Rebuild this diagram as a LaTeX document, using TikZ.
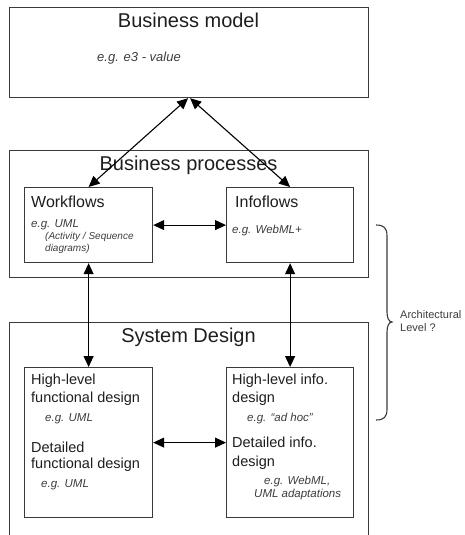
\documentclass[tikz,border=0pt]{standalone}
\usepackage{fontspec}
\setmainfont{Liberation Sans}
\usetikzlibrary{arrows.meta}
\definecolor{boxgray}{HTML}{3A3A3A}
\definecolor{txtgray}{HTML}{1E1E1E}
\definecolor{exgray}{HTML}{3C3C3C}
\begin{document}
\begin{tikzpicture}[x=1pt,y=-1pt,
  box/.style={draw=boxgray, line width=1.2pt, inner sep=0pt, anchor=north west},
  title/.style={font=\fontsize{20}{24}\selectfont, text=txtgray, anchor=base, inner sep=0pt},
  head/.style={font=\fontsize{16}{19}\selectfont, text=txtgray, anchor=base west, inner sep=0pt},
  sub/.style={font=\fontsize{14.5}{17}\selectfont, text=txtgray, anchor=base west, inner sep=0pt},
  ex/.style={font=\fontsize{11.5}{14}\selectfont\itshape, text=exgray, anchor=base west, inner sep=0pt},
  exsmall/.style={font=\fontsize{10}{12}\selectfont\itshape, text=exgray, anchor=base west, inner sep=0pt},
  note/.style={font=\fontsize{11}{13}\selectfont, text=exgray, anchor=base west, inner sep=0pt},
  link/.style={line width=1.1pt, black,
    {Triangle[length=11pt,width=10pt]}-{Triangle[length=11pt,width=10pt]}},
]
\path[use as bounding box, clip] (0,0) rectangle (465,535);

% outer layers
\node[box, minimum width=359pt, minimum height=90pt]  (bm) at (9,7)   {};
\node[box, minimum width=359pt, minimum height=127pt] (bp) at (9,150) {};
\node[box, minimum width=359pt, minimum height=240pt] (sd) at (9,322) {};

\node[title] (bmT) at (188.5,28)  {Business model};
\node[ex, font=\fontsize{13}{15}\selectfont\itshape] (bmE) at (97,62) {e.g. e3 - value};
\node[title] (bpT) at (188.5,170) {Business processes};
\node[title] (sdT) at (188.5,342) {System Design};

% business process boxes
\node[box, minimum width=128pt, minimum height=75pt] (wf)  at (24,187)  {};
\node[box, minimum width=127pt, minimum height=75pt] (inf) at (226,187) {};

\node[head] (wfT) at (31,207) {Workflows};
\node[ex] (wfE) at (31,227) {e.g. UML};
\node[exsmall] (wfE2) at (45,239) {(Activity / Sequence};
\node[exsmall] (wfE3) at (45,251) {diagrams)};

\node[head] (infT) at (235,207) {Infoflows};
\node[ex] (infE) at (232,233) {e.g. WebML+};

% system design boxes
\node[box, minimum width=128pt, minimum height=150pt] (fd) at (24,367)  {};
\node[box, minimum width=127pt, minimum height=150pt] (id) at (226,367) {};

\node[sub] (fd1) at (31,384) {High-level};
\node[sub] (fd2) at (31,402) {functional design};
\node[ex]  (fd3) at (45,421) {e.g. UML};
\node[sub] (fd4) at (31,452) {Detailed};
\node[sub] (fd5) at (31,468) {functional design};
\node[ex]  (fd6) at (41,487) {e.g. UML};

\node[sub] (id1) at (232,384) {High-level info.};
\node[sub] (id2) at (232,402) {design};
\node[ex]  (id3) at (247,421) {e.g. ``ad hoc''};
\node[sub] (id4) at (232,447) {Detailed info.};
\node[sub] (id5) at (232,466) {design};
\node[ex]  (id6) at (264,484) {e.g. WebML,};
\node[ex]  (id7) at (254,497) {UML adaptations};

% connectors
\coordinate (bmL) at ([xshift=-1pt]bm.south);
\coordinate (bmR) at ([xshift=1pt]bm.south);
\draw[link] (wf.north)  -- (bmL);
\draw[link] (inf.north) -- (bmR);
\draw[link] (wf.east) -- (inf.west);
\draw[link] (wf.south)  -- (fd.north);
\draw[link] (inf.south) -- (id.north);
\draw[link] (fd.east) -- (id.west);

% brace and its label
\draw[boxgray, line width=1.1pt]
  (376,225) .. controls (384,225) and (387,228) .. (387,236)
  -- (387,312) .. controls (387,318) and (389,322) .. (392,322)
  .. controls (389,322) and (387,326) .. (387,332)
  -- (387,409) .. controls (387,417) and (384,420) .. (376,420);
\node[note] (arch1) at (400,318) {Architectural};
\node[note] (arch2) at (400,331) {Level ?};
\end{tikzpicture}
\end{document}
